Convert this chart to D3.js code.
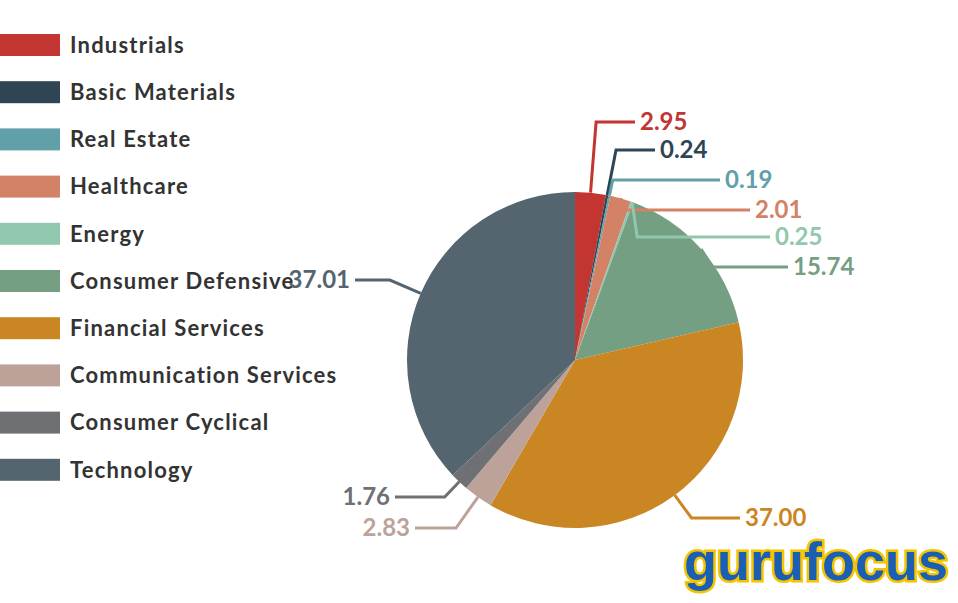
<!DOCTYPE html><html><head><meta charset="utf-8">
<script src="https://cdn.jsdelivr.net/npm/d3@7"></script>
<style>body{margin:0;background:#fff}</style></head><body>
<svg id="c" width="958" height="603"></svg>
<script>
const categories=["Industrials","Basic Materials","Real Estate","Healthcare","Energy","Consumer Defensive","Financial Services","Communication Services","Consumer Cyclical","Technology"];
const values=[2.95,0.24,0.19,2.01,0.25,15.74,37.00,2.83,1.76,37.01];
const labels=["2.95","0.24","0.19","2.01","0.25","15.74","37.00","2.83","1.76","37.01"];
const colors=["#c23531","#2f4554","#61a0a8","#d48265","#91c7ae","#749f83","#ca8622","#bda29a","#6e7074","#546570"];
const labelY=[122,150,180,210,237,267,518,528,497,280];
const labelX=[640,660,725,755,775,793,745,410,390,350];

const svg=d3.select("#c");
const cx=575,cy=360,R=168;
const pie=d3.pie().sort(null).value(d=>d)(values);
const arc=d3.arc().innerRadius(0).outerRadius(R);
const g=svg.append("g").attr("transform",`translate(${cx},${cy})`);
g.selectAll("path").data(pie).join("path").attr("d",arc).attr("fill",(d,i)=>colors[i]);

const lg=svg.append("g");
categories.forEach((c,i)=>{
  const y=45+i*47.2;
  lg.append("rect").attr("x",0).attr("y",y-11).attr("width",60).attr("height",22).attr("fill",colors[i]);
  lg.append("text").attr("x",70).attr("y",y).attr("dy","0.35em").attr("fill","#333")
    .attr("font-family","Lato, sans-serif").attr("font-size",22).attr("font-weight","bold")
    .attr("letter-spacing",1.2).text(c);
});

pie.forEach((d,i)=>{
  const a=(d.startAngle+d.endAngle)/2;
  const p0=[cx+Math.sin(a)*R,cy-Math.cos(a)*R];
  const right=Math.sin(a)>=0;
  const ly=labelY[i], lx=labelX[i];
  let t=(ly-p0[1])/(-Math.cos(a));
  if(!isFinite(t)||t<5) t=15;
  t=Math.min(t,60);
  const el=[p0[0]+Math.sin(a)*t,ly];
  const end=[right?lx-5:lx+5,ly];
  svg.append("polyline").attr("points",[p0,el,end].map(p=>p.join(",")).join(" "))
    .attr("fill","none").attr("stroke",colors[i]).attr("stroke-width",3);
  svg.append("text").attr("x",lx).attr("y",ly).attr("dy","0.35em")
    .attr("text-anchor",right?"start":"end").attr("fill",colors[i])
    .attr("font-family","Lato, sans-serif").attr("font-weight","bold").attr("font-size",24).text(labels[i]);
});

const logo=svg.append("text").attr("x",948).attr("y",580).attr("text-anchor","end")
  .attr("font-family","Liberation Sans, sans-serif").attr("font-weight","bold").attr("font-size",54)
  .attr("stroke","#f5c400").attr("stroke-width",5).attr("paint-order","stroke");
logo.append("tspan").attr("fill","#1a5fb4").text("guru");
logo.append("tspan").attr("fill","#1a5fb4").text("focus");
</script></body></html>
